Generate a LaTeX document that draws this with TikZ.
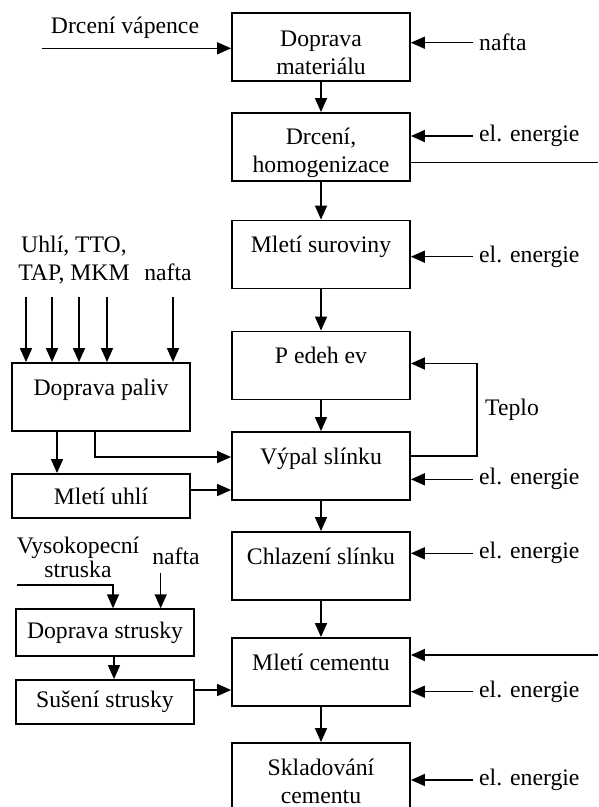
\documentclass[tikz,border=0pt]{standalone}
\usepackage{fontspec}
\setmainfont{Liberation Serif}
\usetikzlibrary{arrows.meta}

\begin{document}
\begin{tikzpicture}[x=1pt, y=-1pt, font=\fontsize{23.7}{28}\selectfont,
  box/.style={draw, line width=1.8pt, minimum width=178pt, minimum height=68pt, align=center, inner sep=0pt},
  onerow/.style={text height=17pt, text depth=21pt},
  lbl/.style={inner xsep=6pt, inner ysep=0pt},
  arr/.style={line width=1.5pt, -{Triangle[length=14pt, width=12pt]}},
  ln/.style={line width=1.5pt}]
\useasboundingbox (0,0) rectangle (598,807);
\node[box] (dm) at (321,47) {\rule{0pt}{27pt}Doprava\\materiálu};
\node[box] (dh) at (321,147) {\rule{0pt}{28pt}Drcení,\\homogenizace};
\node[box, onerow] (ms) at (321,254.5) {Mletí suroviny};
\node[box, onerow] (pd) at (321,365.5) {P edeh ev};
\node[box, onerow] (vp) at (321,466) {Výpal slínku};
\node[box, onerow] (cs) at (321,566) {Chlazení slínku};
\node[box, onerow] (mc) at (321,672) {Mletí cementu};
\node[box] (sc) at (321,777) {\rule{0pt}{25pt}Skladování\\cementu};
\foreach \a/\b in {dm/dh, dh/ms, ms/pd, pd/vp, vp/cs, cs/mc, mc/sc}{
\draw[arr] (\a.south) -- (\b.north);
}
\node[lbl, anchor=west] (n1) at (473,42.7) {nafta};
\node[lbl, anchor=west] (e1) at (473,136) {el. energie};
\node[lbl, anchor=west] (e2) at (473,256.7) {el. energie};
\node[lbl, anchor=west] (e3) at (473,479.3) {el. energie};
\node[lbl, anchor=west] (e4) at (473,553.3) {el. energie};
\node[lbl, anchor=west] (e5) at (473,691.7) {el. energie};
\node[lbl, anchor=west] (e6) at (473,780) {el. energie};
\draw[arr] (n1.west) -- (n1.west -| dm.east);
\draw[arr] (e1.west) -- (e1.west -| dh.east);
\draw[arr] (e2.west) -- (e2.west -| ms.east);
\draw[arr] (e3.west) -- (e3.west -| vp.east);
\draw[arr] (e4.west) -- (e4.west -| cs.east);
\draw[arr] (e5.west) -- (e5.west -| mc.east);
\draw[arr] (e6.west) -- (e6.west -| sc.east);
\coordinate (r1) at (598,162.7);
\coordinate (r2) at (598,655);
\draw[ln] (dh.east |- r1) -- (r1);
\draw[arr] (r2) -- (r2 -| mc.east);
\coordinate (tp) at (477,456);
\draw[arr] (vp.east |- tp) -- (tp) |- ([yshift=2pt]pd.east);
\node[lbl, anchor=west] (teplo) at (479,410) {Teplo};
\node[lbl] (dv) at (125,27.5) {Drcení vápence};
\coordinate (dvs) at (42,48.3);
\draw[arr] (dvs) -- (dvs -| dm.west);
\node[box, onerow] (dp) at (101,397) {Doprava paliv};
\node[box, minimum height=44pt] (mu) at (101,496) {Mletí uhlí};
\node[lbl, align=center] (uhli) at (74,260) {Uhlí, TTO,\\TAP, MKM};
\node[lbl] (n2) at (168,272) {nafta};
\foreach \x [count=\i] in {26,52,79,107,173}{
\coordinate (in\i) at (\x,297);
\draw[arr] (in\i) -- (in\i |- dp.north);
}
\draw[arr] ([xshift=-44pt]dp.south) -- ([xshift=-44pt]mu.north);
\draw[arr] ([xshift=-6pt]dp.south) |- ([yshift=9pt]vp.west);
\draw[arr] ([yshift=6pt]mu.east) -- ([yshift=6pt]mu.east -| vp.west);
\node[lbl, align=center] (vs) at (78,557) {Vysokopecní\\[-4pt]struska};
\node[lbl] (n3) at (176,556) {nafta};
\node[box, minimum height=47pt] (ds) at (105,632.7) {Doprava strusky};
\node[box, minimum height=44pt] (ss) at (105,702) {Sušení strusky};
\coordinate (vss) at (17,585);
\coordinate (vsk) at (113,585);
\draw[arr] (vss) -- (vsk) -- (vsk |- ds.north);
\coordinate (n3s) at (160.7,573);
\draw[arr] (n3s) -- (n3s |- ds.north);
\draw[arr] ([xshift=9pt]ds.south) -- ([xshift=9pt]ss.north);
\draw[arr] ([yshift=12pt]ss.east) -- ([yshift=12pt]ss.east -| mc.west);
\end{tikzpicture}
\end{document}
